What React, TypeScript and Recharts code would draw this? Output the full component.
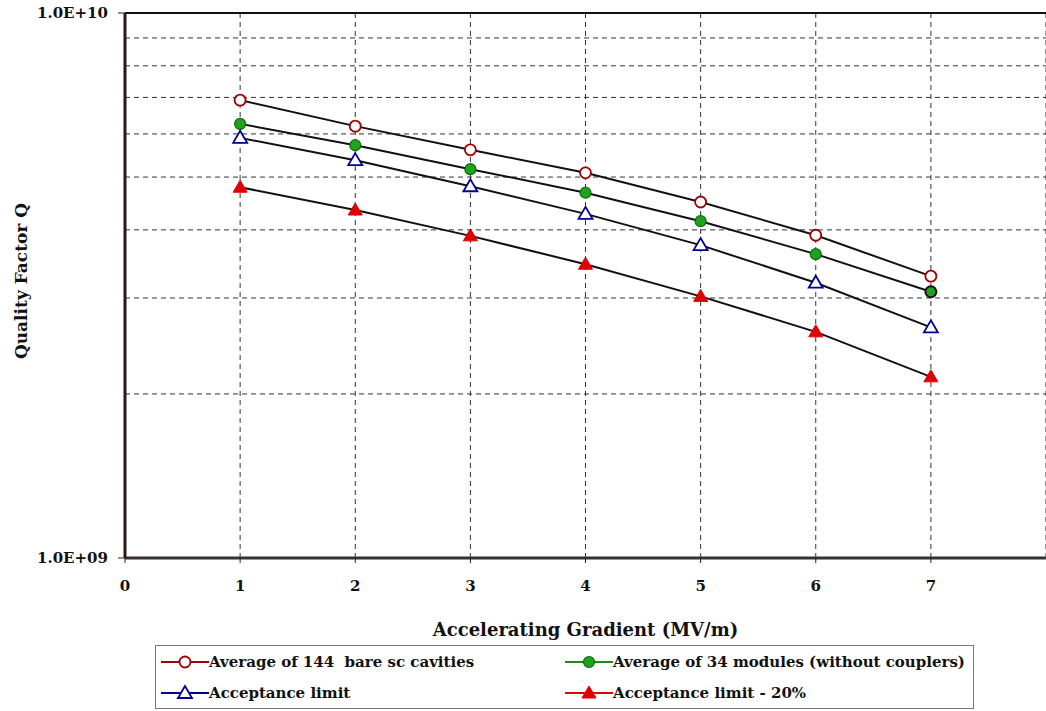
import React from 'react';
import {
  LineChart,
  Line,
  XAxis,
  YAxis,
  CartesianGrid,
  ReferenceLine,
} from 'recharts';

// Accelerating gradient (MV/m)
const gradient = [1, 2, 3, 4, 5, 6, 7];
// Quality factor Q per series
const bareCavities = [6.92e9, 6.2e9, 5.61e9, 5.09e9, 4.5e9, 3.91e9, 3.29e9];
const modules = [6.26e9, 5.72e9, 5.17e9, 4.68e9, 4.15e9, 3.61e9, 3.08e9];
const acceptance = [5.9e9, 5.37e9, 4.81e9, 4.28e9, 3.75e9, 3.2e9, 2.65e9];
const acceptance20 = [4.79e9, 4.35e9, 3.9e9, 3.46e9, 3.02e9, 2.6e9, 2.15e9];

const xTicks = [0, 1, 2, 3, 4, 5, 6, 7];
const yTicks = [1e9, 1e10];
const yMinor = [2e9, 3e9, 4e9, 5e9, 6e9, 7e9, 8e9, 9e9];

const seriesNames = [
  'Average of 144  bare sc cavities',
  'Average of 34 modules (without couplers)',
  'Acceptance limit',
  'Acceptance limit - 20%',
];

const data = gradient.map((g, i) => ({
  g,
  bare: bareCavities[i],
  modules: modules[i],
  acc: acceptance[i],
  acc20: acceptance20[i],
}));

const FONT = '"DejaVu Serif", "Liberation Serif", serif';

type Shape = 'openCircle' | 'dotGreen' | 'openTri' | 'fillTri';

function Marker({ cx, cy, shape, strong }: { cx: number; cy: number; shape: Shape; strong?: boolean }) {
  if (shape === 'openCircle')
    return <circle cx={cx} cy={cy} r={5.5} fill="#fff" stroke="#a00000" strokeWidth={1.8} />;
  if (shape === 'dotGreen')
    return (
      <circle
        cx={cx}
        cy={cy}
        r={5.5}
        fill="#1fa31f"
        stroke={strong ? '#111' : '#0b6b0b'}
        strokeWidth={strong ? 2 : 1.2}
      />
    );
  const pts = `${cx},${cy - 7} ${cx - 7},${cy + 5} ${cx + 7},${cy + 5}`;
  if (shape === 'openTri')
    return <polygon points={pts} fill="#fff" stroke="#00008f" strokeWidth={1.8} />;
  return <polygon points={pts} fill="#e00000" stroke="#e00000" strokeWidth={1} />;
}

const dotFor = (shape: Shape) => (p: any) =>
  (
    <Marker
      key={`${shape}-${p.index}`}
      cx={p.cx}
      cy={p.cy}
      shape={shape}
      strong={shape === 'dotGreen' && p.index === gradient.length - 1}
    />
  );

const legendItems: { name: string; shape: Shape; color: string }[] = [
  { name: seriesNames[0], shape: 'openCircle', color: '#a00000' },
  { name: seriesNames[1], shape: 'dotGreen', color: '#1a8a1a' },
  { name: seriesNames[2], shape: 'openTri', color: '#00008f' },
  { name: seriesNames[3], shape: 'fillTri', color: '#e00000' },
];

function LegendEntry({ item }: { item: (typeof legendItems)[number] }) {
  return (
    <div style={{ display: 'flex', alignItems: 'center', height: 30 }}>
      <svg width={49} height={20}>
        <line x1={1} y1={10} x2={49} y2={10} stroke={item.color} strokeWidth={2} />
        <Marker cx={25} cy={10} shape={item.shape} />
      </svg>
      <span
        style={{ fontSize: 15, fontWeight: 'bold', fontFamily: FONT, color: '#111', whiteSpace: 'pre' }}
      >
        {item.name}
      </span>
    </div>
  );
}

export default function App() {
  const tickStyle = { fontSize: 15, fontWeight: 'bold', fontFamily: FONT, fill: '#111' };
  return (
    <div style={{ position: 'absolute', left: 0, top: 0, width: 1046, height: 711, background: '#fff', overflow: 'hidden' }}>
      <LineChart width={1046} height={645} data={data} margin={{ top: 13, right: 0, bottom: 0, left: 0 }}>
        <CartesianGrid horizontal={false} stroke="#333" strokeDasharray="5 4" />
        {yMinor.map((v) => (
          <ReferenceLine key={v} y={v} stroke="#333" strokeDasharray="5 4" strokeWidth={1} />
        ))}
        <ReferenceLine y={1e10} stroke="#111" strokeWidth={2} />
        <XAxis
          dataKey="g"
          type="number"
          domain={[0, 8]}
          ticks={xTicks}
          allowDataOverflow
          height={87}
          tickSize={5}
          tickMargin={17}
          tick={tickStyle}
          axisLine={{ stroke: '#3a3030', strokeWidth: 3 }}
          tickLine={{ stroke: '#222' }}
          label={(p: any) => {
            const vb = p.viewBox;
            return (
              <text
                x={vb.x + vb.width / 2}
                y={636}
                textAnchor="middle"
                style={{ fontSize: 18, fontWeight: 'bold', fontFamily: FONT, fill: '#111' }}
              >
                Accelerating Gradient (MV/m)
              </text>
            );
          }}
        />
        <YAxis
          type="number"
          scale="log"
          domain={[1e9, 1e10]}
          ticks={yTicks}
          allowDataOverflow
          width={125}
          tickSize={7}
          tickMargin={10}
          tick={tickStyle}
          tickFormatter={(v: number) => (v >= 1e10 ? '1.0E+10' : '1.0E+09')}
          axisLine={{ stroke: '#2a1818', strokeWidth: 3 }}
          tickLine={{ stroke: '#222' }}
          label={() => {
            const cx = 21;
            const cy = 281;
            return (
              <text
                x={cx}
                y={cy}
                transform={`rotate(-90 ${cx} ${cy})`}
                textAnchor="middle"
                dominantBaseline="central"
                style={{ fontSize: 17, fontWeight: 'bold', fontFamily: FONT, fill: '#111' }}
              >
                Quality Factor Q
              </text>
            );
          }}
        />
        <Line dataKey="bare" name={seriesNames[0]} stroke="#111" strokeWidth={2} dot={dotFor('openCircle')} isAnimationActive={false} />
        <Line dataKey="modules" name={seriesNames[1]} stroke="#111" strokeWidth={2} dot={dotFor('dotGreen')} isAnimationActive={false} />
        <Line dataKey="acc" name={seriesNames[2]} stroke="#111" strokeWidth={2} dot={dotFor('openTri')} isAnimationActive={false} />
        <Line dataKey="acc20" name={seriesNames[3]} stroke="#111" strokeWidth={2} dot={dotFor('fillTri')} isAnimationActive={false} />
      </LineChart>
      <div
        style={{
          position: 'absolute',
          left: 155,
          top: 645,
          width: 819,
          height: 64,
          border: '1px solid #777',
          display: 'grid',
          gridTemplateColumns: '404px 1fr',
          paddingLeft: 4,
          paddingTop: 1,
          boxSizing: 'border-box',
        }}
      >
        {legendItems.map((it) => (
          <LegendEntry key={it.name} item={it} />
        ))}
      </div>
    </div>
  );
}
